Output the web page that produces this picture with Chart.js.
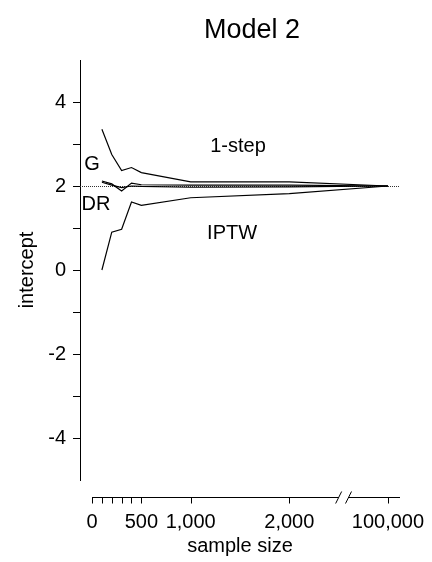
<!DOCTYPE html>
<html>
<head>
<meta charset="utf-8">
<script src="https://cdn.jsdelivr.net/npm/chart.js@4/dist/chart.umd.min.js"></script>
<style>
html,body{margin:0;padding:0;background:#fff;}
#wrap{width:432px;height:562px;position:relative;}
</style>
</head>
<body>
<div id="wrap"><canvas id="c" width="432" height="562"></canvas></div>
<script>
// ---- data ----
const sampleSizes = [100, 200, 300, 400, 500, 1000, 2000, 100000];
const oneStep = [3.35, 2.75, 2.37, 2.44, 2.32, 2.10, 2.10, 2.00];
const iptw    = [0.00, 0.90, 0.97, 1.62, 1.54, 1.72, 1.82, 2.00];
const gComp   = [2.12, 2.05, 1.88, 2.07, 2.03, 2.02, 2.02, 2.00];
const drEst   = [2.09, 2.02, 1.96, 2.00, 1.99, 1.97, 1.98, 2.00];
const xTickValues = [0, 500, 1000, 2000, 100000];
const xMinorValues = [100, 200, 300, 400];
const yTickValues = [-4, -3, -2, -1, 0, 1, 2, 3, 4];
const trueValue = 2;
const seriesLabels = ['1-step', 'IPTW', 'G', 'DR'];

// broken axis: values above 2000 are drawn at the break position 3000
const BREAK_FROM = 2000, BREAK_POS = 3000;
function axisPos(n){ return n > BREAK_FROM ? BREAK_POS : n; }
function toPts(vals){ return sampleSizes.map((n,i)=>({x: axisPos(n), y: vals[i]})); }

const FONT = "'Liberation Sans', Arial, sans-serif";
const FS = 20;

const lineStyle = {borderColor:'#000', borderWidth:1.2, pointRadius:0, fill:false, tension:0};

const decor = {
  id:'decor',
  beforeDatasetsDraw(chart){
    const {ctx, chartArea:a, scales:{x,y}} = chart;
    ctx.save();
    ctx.strokeStyle = '#333';
    ctx.lineWidth = 1;
    ctx.setLineDash([1,1]);
    const yy = Math.round(y.getPixelForValue(trueValue)) + 0.5;
    ctx.beginPath(); ctx.moveTo(a.left, yy); ctx.lineTo(a.right, yy); ctx.stroke();
    ctx.restore();
  },
  afterDraw(chart){
    const {ctx, chartArea:a, scales:{x,y}} = chart;
    ctx.save();
    const ay = a.bottom + 17.5;
    ctx.strokeStyle = '#000'; ctx.lineWidth = 1;
    const b1 = x.getPixelForValue(2500), b2 = x.getPixelForValue(2600);
    ctx.beginPath();
    ctx.moveTo(x.getPixelForValue(0), ay); ctx.lineTo(b1, ay);
    ctx.moveTo(b2, ay); ctx.lineTo(a.right, ay);
    ctx.stroke();
    ctx.beginPath();
    ctx.moveTo(b1-3, ay+6); ctx.lineTo(b1+3, ay-6);
    ctx.moveTo(b2-3, ay+6); ctx.lineTo(b2+3, ay-6);
    ctx.stroke();
    ctx.beginPath();
    xTickValues.concat(xMinorValues).forEach(v=>{
      const px = Math.round(x.getPixelForValue(axisPos(v))) + 0.5;
      ctx.moveTo(px, ay); ctx.lineTo(px, ay+6);
    });
    ctx.stroke();
    ctx.fillStyle = '#000';
    ctx.font = FS + "px " + FONT;
    ctx.textAlign = 'center'; ctx.textBaseline = 'middle';
    const labelAt = [[1480, 2.93], [1420, 0.88], [0, 2.52], [40, 1.57]];
    seriesLabels.forEach((t,i)=>{
      ctx.fillText(t, x.getPixelForValue(labelAt[i][0]), y.getPixelForValue(labelAt[i][1]));
    });
    ctx.font = "27px " + FONT;
    ctx.fillText('Model 2', (a.left + a.right)/2 + 12, 31);
    ctx.restore();
  }
};

new Chart(document.getElementById('c'), {
  type:'line',
  data:{
    datasets:[
      Object.assign({label:'1-step', data: toPts(oneStep)}, lineStyle),
      Object.assign({label:'IPTW', data: toPts(iptw)}, lineStyle),
      Object.assign({label:'G', data: toPts(gComp)}, lineStyle),
      Object.assign({label:'DR', data: toPts(drEst)}, lineStyle)
    ]
  },
  options:{
    responsive:false,
    animation:false,
    devicePixelRatio:1,
    layout:{padding:{top:60, right:32, left:0, bottom:0}},
    plugins:{legend:{display:false}, tooltip:{enabled:false}, title:{display:false}},
    scales:{
      x:{
        type:'linear', min:-122, max:3122,
        afterBuildTicks(s){ s.ticks = xTickValues.map(v=>({value: axisPos(v)})); },
        afterFit(s){ s.height = 82; s.paddingLeft = 0; s.paddingRight = 0; },
        grid:{display:false, drawTicks:false},
        border:{display:false},
        ticks:{
          padding:30, autoSkip:false, maxRotation:0, color:'#000',
          font:{family:FONT, size:FS},
          callback(v){ const i = xTickValues.findIndex(t=>axisPos(t)===v); return i>=0 ? xTickValues[i].toLocaleString('en-US') : ''; }
        },
        title:{display:true, text:'sample size', color:'#000', font:{family:FONT, size:FS}, padding:{top:0, bottom:4}}
      },
      y:{
        min:-5, max:5,
        afterBuildTicks(s){ s.ticks = yTickValues.map(v=>({value:v})); },
        afterFit(s){ s.width = 80; s.paddingTop = 0; s.paddingBottom = 0; },
        grid:{drawOnChartArea:false, drawTicks:true, tickLength:7, color:'#000', lineWidth:1},
        border:{display:true, color:'#000', width:1},
        ticks:{
          padding:7, color:'#000', font:{family:FONT, size:FS},
          callback(v){ return v % 2 === 0 ? String(v) : ''; }
        },
        title:{display:true, text:'intercept', color:'#000', font:{family:FONT, size:FS}, padding:{top:15, bottom:0}}
      }
    }
  },
  plugins:[decor]
});
</script>
</body>
</html>
